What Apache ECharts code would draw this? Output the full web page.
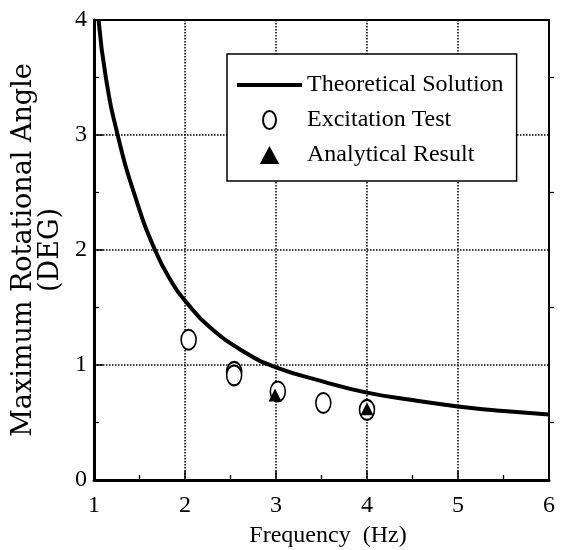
<!DOCTYPE html>
<html>
<head>
<meta charset="utf-8">
<script src="https://cdn.jsdelivr.net/npm/echarts@6/dist/echarts.min.js"></script>
<style>
  html, body { margin: 0; padding: 0; background: #fff; }
  #chart { width: 565px; height: 550px; }
</style>
</head>
<body>
<div id="chart"></div>
<script>
// theoretical curve [Hz, deg]
var theoryPoints = [
    [1.05, 4.0], [1.13, 3.5], [1.26, 3.0], [1.45, 2.47], [1.67, 2.0],
    [1.87, 1.70], [2.0, 1.56], [2.27, 1.33], [2.68, 1.10], [3.0, 0.98],
    [3.5, 0.86], [4.0, 0.76], [4.5, 0.695], [5.0, 0.64], [5.5, 0.60], [6.0, 0.57]
];
// excitation test (open ellipses)
var testPoints = [
    [2.04, 1.22], [2.54, 0.94], [2.54, 0.91], [3.02, 0.77], [3.52, 0.67], [4.0, 0.61]
];
// analytical result (filled triangles)
var analyticPoints = [
    [2.99, 0.74], [4.0, 0.62]
];
var xTicks = [1, 2, 3, 4, 5, 6];
var yTicks = [0, 1, 2, 3, 4];

var serif = '"Liberation Serif", "Times New Roman", serif';
var ellipse = 'path://M0,9A6.5,9 0 1,1 13,9A6.5,9 0 1,1 0,9Z';
var triangle = 'path://M6.5,0L13,12L0,12Z';
var lineIcon = 'path://M0,0H65V4H0Z';

var chart = echarts.init(document.getElementById('chart'));

var tickOnly = {
    show: true,
    inside: true,
    length: 9,
    lineStyle: { color: '#000', width: 1.5 }
};
var minorOnly = {
    show: true,
    splitNumber: 2,
    length: 5,
    lineStyle: { color: '#000', width: 1.2 }
};

chart.setOption({
    animation: false,
    backgroundColor: '#fff',
    grid: {
        left: 94, right: 16, top: 20, bottom: 70,
        containLabel: false,
        outerBoundsMode: 'none',
        show: true, borderColor: '#000', borderWidth: 2
    },
    legend: {
        orient: 'vertical',
        left: 227, top: 54,
        padding: [19, 13, 14, 10],
        itemGap: 11,
        itemWidth: 65,
        itemHeight: 18,
        borderColor: '#000',
        borderWidth: 1.5,
        backgroundColor: '#fff',
        textStyle: { fontFamily: serif, fontSize: 24, color: '#000' },
        data: [
            { name: 'Theoretical Solution', icon: lineIcon, itemStyle: { color: '#000', borderWidth: 0 } },
            { name: 'Excitation Test', icon: ellipse },
            { name: 'Analytical Result', icon: triangle, itemStyle: { color: '#000', opacity: 1 } }
        ]
    },
    xAxis: [{
        type: 'value',
        min: xTicks[0], max: xTicks[xTicks.length - 1], interval: 1,
        name: 'Frequency  (Hz)',
        nameLocation: 'middle',
        nameGap: 44,
        nameTextStyle: { fontFamily: serif, fontSize: 24, color: '#000', padding: [0, 0, 0, 13] },
        axisLine: { lineStyle: { color: '#000', width: 3 } },
        axisTick: tickOnly,
        minorTick: minorOnly,
        axisLabel: { fontFamily: serif, fontSize: 24, color: '#000', margin: 14 },
        splitLine: { show: true, lineStyle: { color: '#000', type: 'dotted', width: 1.5 } }
    }, {
        type: 'value', position: 'top',
        min: xTicks[0], max: xTicks[xTicks.length - 1], interval: 1,
        axisLine: { show: false },
        axisTick: { show: false },
        minorTick: minorOnly,
        axisLabel: { show: false },
        splitLine: { show: false }
    }],
    yAxis: [{
        type: 'value',
        min: yTicks[0], max: yTicks[yTicks.length - 1], interval: 1,
        name: 'Maximum Rotational Angle\n(DEG)',
        nameLocation: 'middle',
        nameRotate: 90,
        nameGap: 27,
        nameTextStyle: { fontFamily: '"DejaVu Serif", serif', fontSize: 27, color: '#000', lineHeight: 27 },
        axisLine: { lineStyle: { color: '#000', width: 3 } },
        axisTick: tickOnly,
        minorTick: minorOnly,
        axisLabel: { fontFamily: serif, fontSize: 24, color: '#000', margin: 7 },
        splitLine: { show: true, lineStyle: { color: '#000', type: 'dotted', width: 1.5 } }
    }, {
        type: 'value', position: 'right',
        min: yTicks[0], max: yTicks[yTicks.length - 1], interval: 1,
        axisLine: { show: false },
        axisTick: { show: false },
        minorTick: minorOnly,
        axisLabel: { show: false },
        splitLine: { show: false }
    }],
    series: [{
        name: 'Theoretical Solution',
        type: 'line',
        data: theoryPoints,
        smooth: 0.5,
        showSymbol: false,
        symbol: 'none',
        lineStyle: { color: '#000', width: 4 },
        itemStyle: { color: '#000' },
        z: 3
    }, {
        name: 'Excitation Test',
        type: 'scatter',
        data: testPoints,
        symbol: ellipse,
        symbolSize: [15, 20],
        itemStyle: { color: '#fff', borderColor: '#000', borderWidth: 1.8, opacity: 1 },
        z: 4
    }, {
        name: 'Analytical Result',
        type: 'scatter',
        data: analyticPoints,
        symbol: triangle,
        symbolSize: [13, 13],
        itemStyle: { color: '#000', opacity: 1 },
        z: 5
    }]
});
</script>
</body>
</html>
